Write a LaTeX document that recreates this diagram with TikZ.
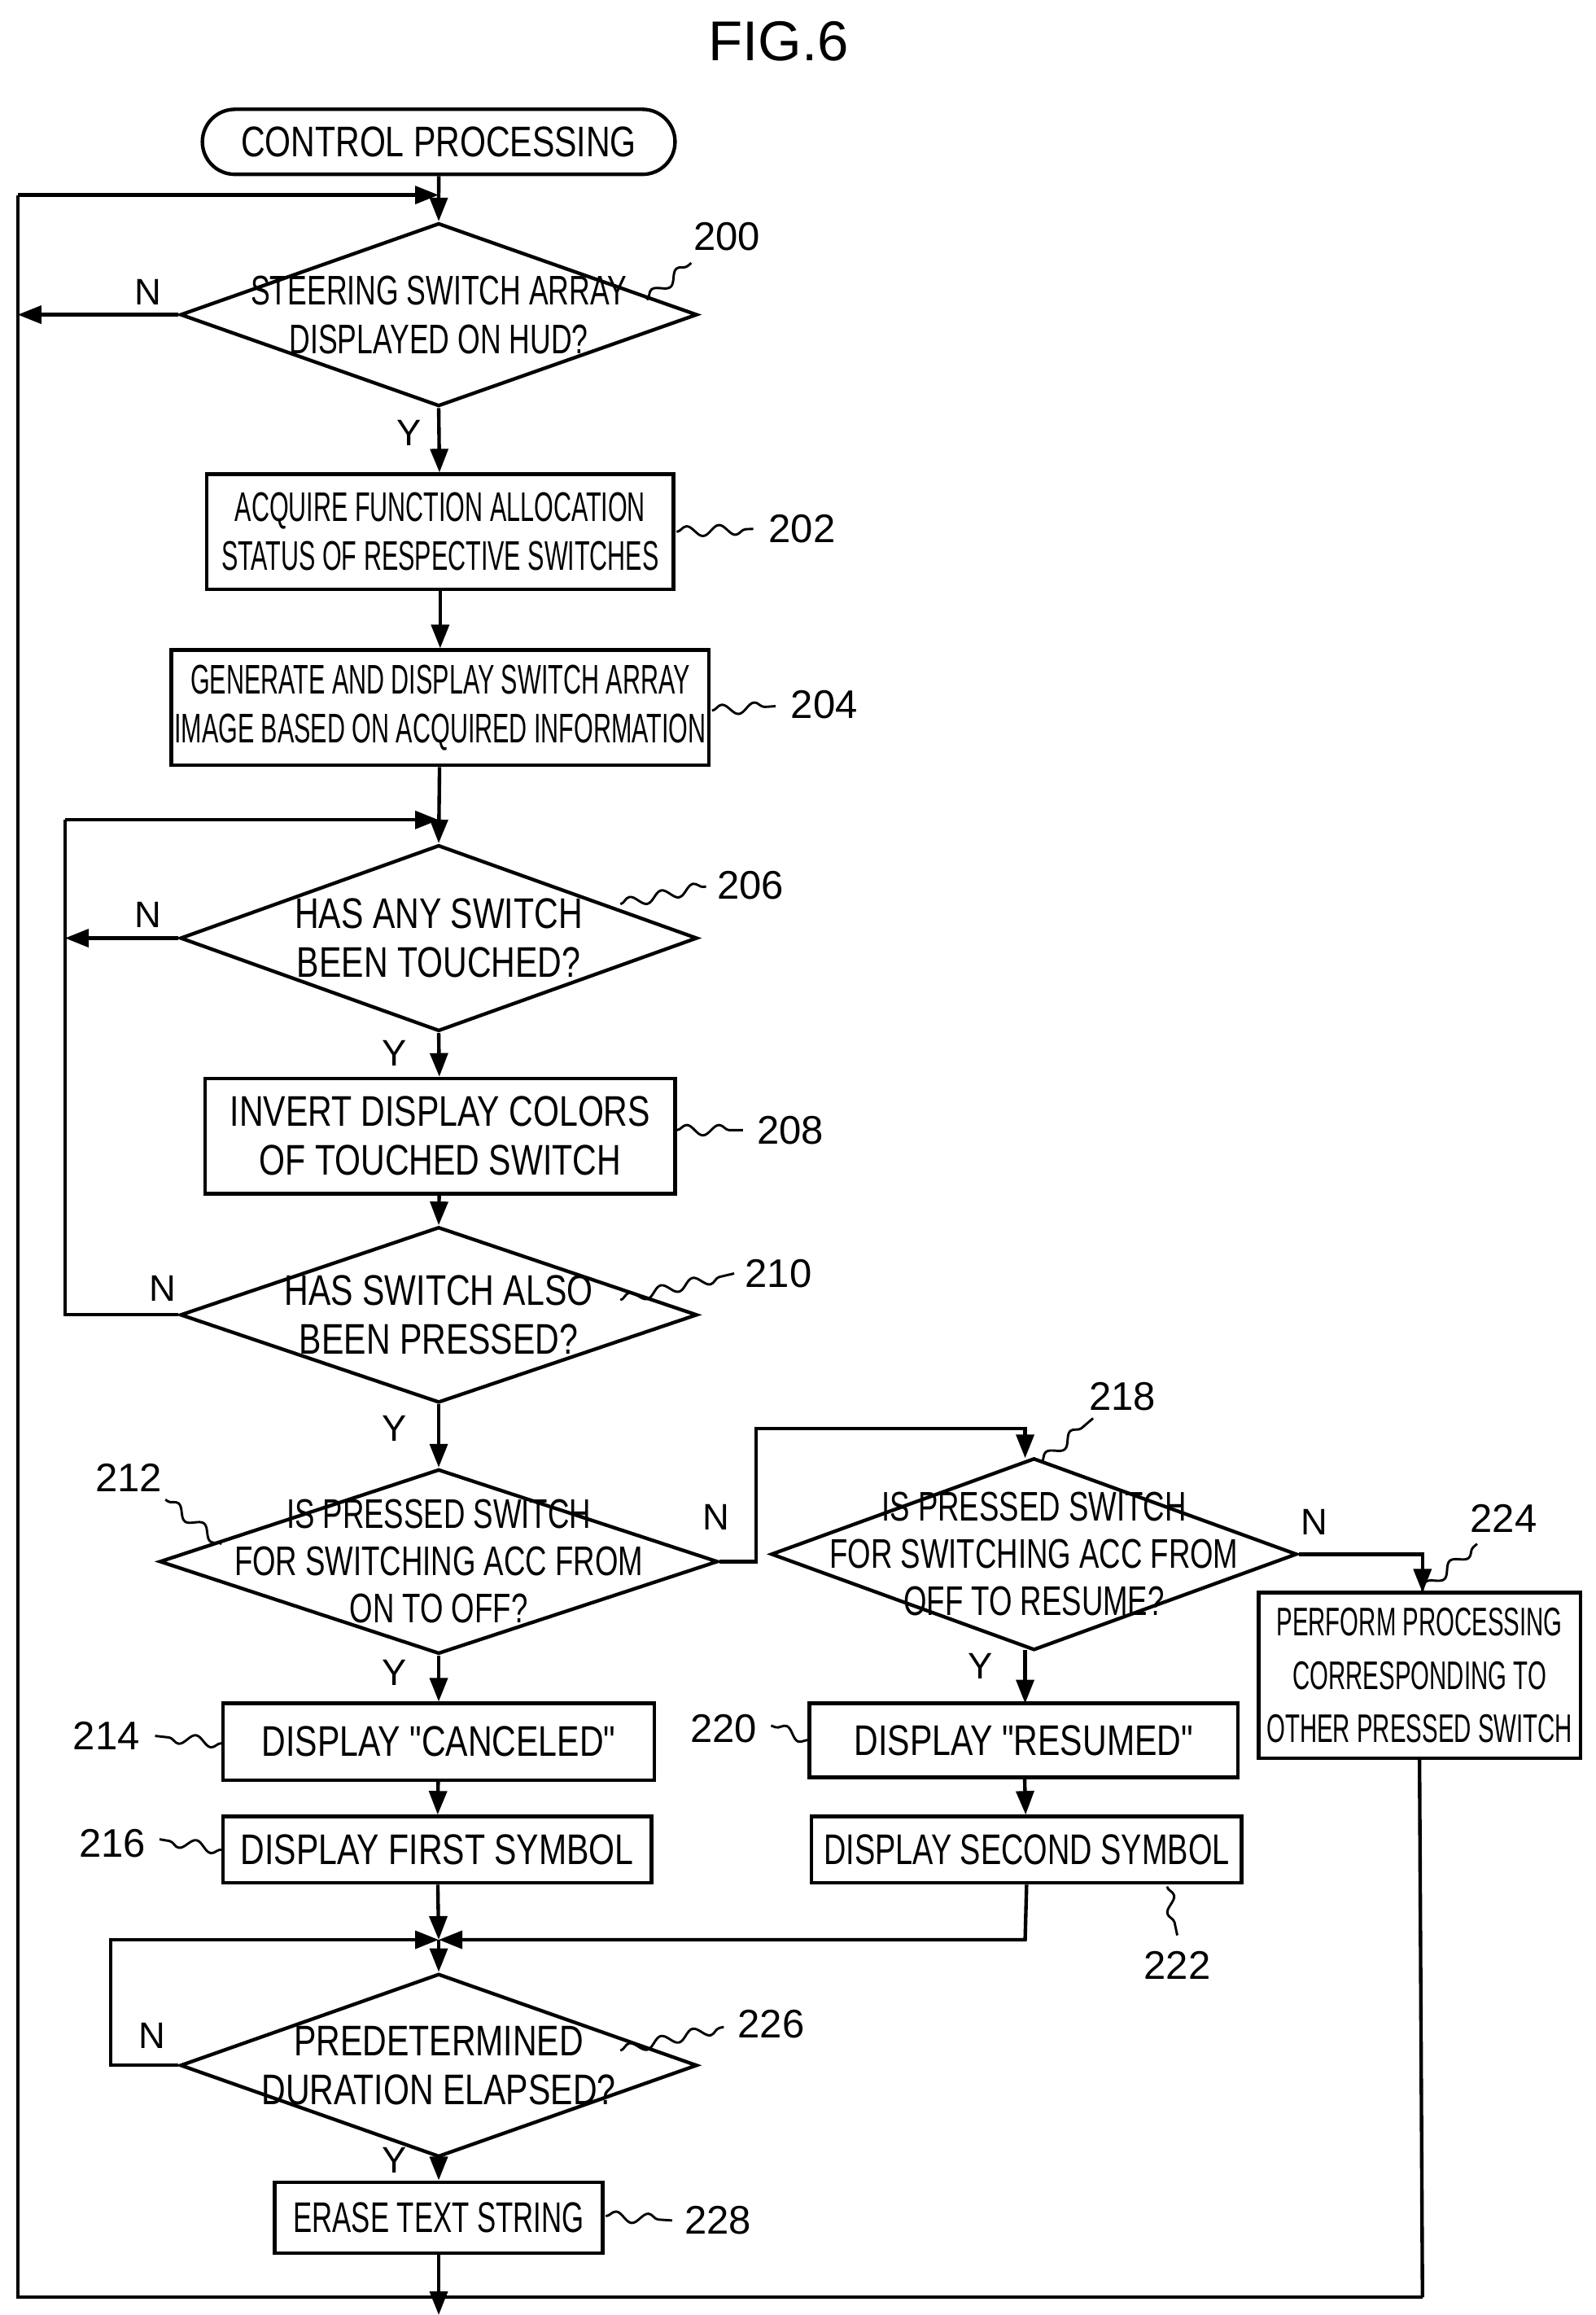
\documentclass[tikz,border=0pt]{standalone}
\usepackage{fontspec}
\setmainfont{Liberation Sans}[Ligatures=TeXOff]
\usetikzlibrary{shapes.geometric,shapes.misc,arrows.meta,decorations.pathmorphing}
\newcommand{\bg}[1]{\scalebox{0.78}[1]{#1}}
\newcommand{\cnd}[2][0.66]{\scalebox{#1}[1]{#2}}
\newcommand{\q}{"}
\begin{document}
\begin{tikzpicture}[x=1pt,y=-1pt,line width=2.4pt,
  box/.style={draw,rectangle,inner sep=0pt},
  dia/.style={draw,diamond,inner sep=0pt,aspect=2.8},
  txt/.style={align=center,inner sep=0pt,font=\fontsize{28}{33}\selectfont},
  lbl/.style={inner sep=0pt,font=\fontsize{27}{30}\selectfont},
  ar/.style={-{Triangle[length=16pt,width=12pt]}},
  sq/.style={line width=1.6pt,decorate,decoration={snake,segment length=22pt,amplitude=3.5pt}}]
\useasboundingbox (0,0) rectangle (1080,1567);
\node[lbl,font=\fontsize{38}{40}\selectfont] (title) at (527,28) {FIG.6};
\node[draw,rounded rectangle,minimum width=320pt,minimum height=44pt,inner sep=0pt,font=\fontsize{29}{33}\selectfont] (start) at (297,96) {\bg{CONTROL PROCESSING}};
% 200
\node[dia,minimum width=350pt,minimum height=124pt] (d200) at (297,213) {};
\node[txt] at (d200) {\cnd[0.7]{STEERING SWITCH ARRAY}\\\cnd[0.7]{DISPLAYED ON HUD?}};
\node[box,minimum width=316pt,minimum height=78pt] (b202) at (298,360) {};
\node[txt] at (b202) {\cnd[0.6]{ACQUIRE FUNCTION ALLOCATION}\\\cnd[0.6]{STATUS OF RESPECTIVE SWITCHES}};
\node[box,minimum width=364pt,minimum height=78pt] (b204) at (298,479) {};
\node[txt] at (b204) {\cnd[0.6]{GENERATE AND DISPLAY SWITCH ARRAY}\\\cnd[0.6]{IMAGE BASED ON ACQUIRED INFORMATION}};
\node[dia,minimum width=350pt,minimum height=126pt] (d206) at (297,635) {};
\node[txt,font=\fontsize{29}{33}\selectfont] at (d206) {\bg{HAS ANY SWITCH}\\\bg{BEEN TOUCHED?}};
\node[box,minimum width=318pt,minimum height=78pt] (b208) at (298,769) {};
\node[txt,font=\fontsize{29}{33}\selectfont] at (b208) {\bg{INVERT DISPLAY COLORS}\\\bg{OF TOUCHED SWITCH}};
\node[dia,minimum width=350pt,minimum height=119pt] (d210) at (297,890) {};
\node[txt,font=\fontsize{29}{33}\selectfont] at (d210) {\bg{HAS SWITCH ALSO}\\\bg{BEEN PRESSED?}};
\node[dia,minimum width=378pt,minimum height=125pt] (d212) at (297,1057) {};
\node[txt,font=\fontsize{28}{32}\selectfont] at (d212) {\cnd[0.72]{IS PRESSED SWITCH}\\\cnd[0.72]{FOR SWITCHING ACC FROM}\\\cnd[0.72]{ON TO OFF?}};
\node[dia,minimum width=356pt,minimum height=130pt] (d218) at (700,1052) {};
\node[txt,font=\fontsize{28}{32}\selectfont] at (d218) {\cnd[0.72]{IS PRESSED SWITCH}\\\cnd[0.72]{FOR SWITCHING ACC FROM}\\\cnd[0.72]{OFF TO RESUME?}};
\node[box,minimum width=218pt,minimum height=112pt] (b224) at (961,1134) {};
\node[txt,font=\fontsize{27}{36}\selectfont] at (b224) {\cnd[0.6]{PERFORM PROCESSING}\\\cnd[0.6]{CORRESPONDING TO}\\\cnd[0.6]{OTHER PRESSED SWITCH}};
\node[box,minimum width=292pt,minimum height=52pt,font=\fontsize{29}{33}\selectfont] (b214) at (297,1179) {\bg{DISPLAY \q CANCELED\q}};
\node[box,minimum width=290pt,minimum height=45pt,font=\fontsize{29}{33}\selectfont] (b216) at (296,1252) {\bg{DISPLAY FIRST SYMBOL}};
\node[box,minimum width=290pt,minimum height=50pt,font=\fontsize{29}{33}\selectfont] (b220) at (693,1178) {\bg{DISPLAY \q RESUMED\q}};
\node[box,minimum width=291pt,minimum height=45pt,font=\fontsize{29}{33}\selectfont] (b222) at (695,1252) {\cnd[0.72]{DISPLAY SECOND SYMBOL}};
\node[dia,minimum width=350pt,minimum height=124pt] (d226) at (297,1398) {};
\node[txt,font=\fontsize{29}{33}\selectfont] at (d226) {\bg{PREDETERMINED}\\\bg{DURATION ELAPSED?}};
\node[box,minimum width=222pt,minimum height=48pt,font=\fontsize{29}{32}\selectfont] (b228) at (297,1501) {\cnd[0.66]{ERASE TEXT STRING}};
% coordinates
\coordinate (top) at (297,132);
\coordinate (l1t) at (12,132);
\coordinate (l1b) at (12,1555);
\coordinate (rb) at (963,1555);
\coordinate (l2t) at (44,555);
\coordinate (j2) at (297,555);
\coordinate (m) at (297,1313);
\coordinate (l3) at (75,1313);
\coordinate (l3b) at (75,1398);
\coordinate (end) at (297,1567);
% connectors
\draw[ar] (start) -- (d200.north);
\draw[ar] (d200.west) -- (12,213);
\draw (rb) -- (l1b) -- (l1t);
\draw[ar] (l1t) -- (top);
\draw[ar] (d200.south) -- (b202);
\draw[ar] (b202) -- (b204);
\draw[ar] (b204) -- (d206.north);
\draw[ar] (l2t) -- (j2);
\draw[ar] (d206.west) -- (44,635);
\draw (d210.west) -- (44,890) -- (l2t);
\draw[ar] (d206.south) -- (b208);
\draw[ar] (b208) -- (d210.north);
\draw[ar] (d210.south) -- (d212.north);
\draw[ar] (d212.east) -- (512,1057) -- (512,967) -- (694,967) -- (694,987);
\draw[ar] (d218.east) -- (963,1052) -- (963,1078);
\draw (b224.south) -- (rb);
\draw[ar] (d212.south) -- (b214);
\draw[ar] (b214) -- (b216);
\draw[ar] (694,1117) -- (694,1153);
\draw[ar] (b220) -- (b222);
\draw[ar] (b216) -- (m);
\draw[ar] (b222.south) -- (694,1313) -- (m);
\draw[ar] (m) -- (d226.north);
\draw[ar] (d226.west) -- (l3b) -- (l3) -- (m);
\draw[ar] (d226.south) -- (b228);
\draw[ar] (b228) -- (end);
% Y / N labels
\foreach \t/\x/\y in {N/100/198,Y/277/293,N/100/619,Y/267/713,N/110/872,Y/267/967,N/485/1027,N/890/1030,Y/267/1132,Y/664/1128,N/103/1378,Y/267/1462}
  \node[lbl,font=\fontsize{25}{28}\selectfont] at (\x,\y) {\t};
% reference numerals
\foreach \n/\x/\y/\ax/\ay/\bx/\by in {200/492/160/438/203/468/178, 202/543/358/458/360/510/358, 204/558/477/482/481/525/478, 206/508/599/420/612/478/600, 208/535/765/458/765/503/765, 210/527/862/420/880/497/862, 212/87/1000/150/1045/112/1015, 218/760/945/705/990/740/960, 224/1018/1028/962/1078/1000/1045, 214/72/1175/150/1180/105/1175, 216/76/1248/150/1252/108/1245, 220/490/1170/548/1178/522/1168, 222/797/1330/790/1277/797/1310, 226/522/1370/420/1388/490/1372, 228/486/1503/410/1500/455/1503}
{
  \node[lbl] (n\n) at (\x,\y) {\n};
  \coordinate (s\n) at (\ax,\ay);
  \coordinate (e\n) at (\bx,\by);
  \draw[sq] (s\n) -- (e\n);
}
\end{tikzpicture}
\end{document}
